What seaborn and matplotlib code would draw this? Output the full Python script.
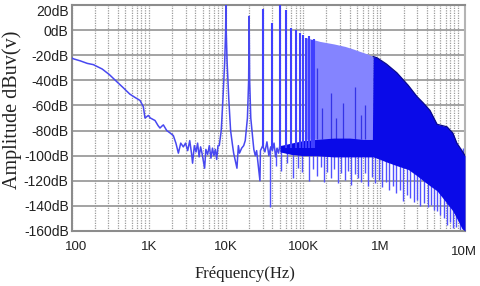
import matplotlib
matplotlib.use("Agg")
import matplotlib.pyplot as plt
import matplotlib.transforms as mtransforms
from matplotlib.ticker import LogLocator, NullFormatter
import seaborn as sns

# spectrum trace, 100 Hz .. 50 kHz (Hz, dBuV)
trace_freq = [100, 105, 130, 160, 192, 250, 310, 385, 470, 570,
              680, 771, 852, 895, 940, 990, 1050, 1208, 1320, 1400,
              1480, 1548, 1713, 1900, 2085, 2250, 2423, 2600, 2808, 3000,
              3200, 3400, 3600, 3700, 3900, 4100, 4300, 4500, 4700, 4900,
              5100, 5300, 5500, 5800, 6100, 6400, 6700, 7000, 7300, 7600,
              7900, 8200, 8700, 9150, 9650, 9920, 10000, 10080, 10360, 10900,
              11500, 12200, 12600, 13900, 14500, 15000, 16000, 17000, 17800, 19000,
              19700, 20000, 20300, 21000, 22400, 23000, 24000, 25000, 27600, 28000,
              29000, 30000, 32000, 34000, 36000, 38000, 40000, 42000, 44000, 46000,
              48000, 50000]
trace_db = [-22, -22.8, -24.5, -26.5, -27.5, -31, -35.5, -41, -46, -51,
            -54, -56, -61, -70, -69, -68, -70, -72, -76, -78,
            -76.5, -75.5, -80, -82, -84, -90, -98, -90, -93, -90,
            -96, -88, -99, -106, -92, -97, -90, -101, -93, -98,
            -104, -110, -95, -99, -92, -102, -94, -100, -95, -103,
            -92, -92, -80, -55, -25, 0, 20, 0, -25, -55,
            -80, -92, -98, -110, -92, -98, -94, -92, -88, -70,
            -40, 11, -40, -70, -88, -95, -100, -96, -120, -96,
            -94, -92, -97, -89, -100, -93, -96, -90, -101, -94,
            -98, -92]

# distinct harmonics of 10 kHz
harm_freq = [30e3, 40e3, 50e3, 60e3, 70e3, 80e3, 90e3, 100e3, 110e3, 120e3, 130e3, 140e3]
harm_top = [17, 6, 21, 16, 2, 0, -2, -4, -6, -5, -8, -7]

# dense harmonics 100 kHz .. 800 kHz (envelope)
light_freq = [109e3, 165e3, 250e3, 350e3, 443e3, 546e3, 680e3, 804e3]
light_top = [-6, -9, -11, -13, -15, -17, -19, -21]

# darker lines inside the dense harmonic area
mid_freq = [150e3, 175e3, 230e3, 270e3, 330e3, 470e3, 560e3, 640e3]
mid_top = [-30, -62, -50, -70, -58, -45, -68, -60]

# dark noise band / saturated area
dark_freq = [50e3, 70e3, 100e3, 150e3, 250e3, 400e3, 600e3, 790e3, 804e3,
             906e3, 1.2e6, 1.64e6, 2.3e6, 2.99e6, 3.6e6, 4.4e6, 5.43e6, 6.3e6, 7.3e6,
             8.7e6, 9.8e6, 11.4e6, 12.5e6]
dark_top = [-92, -90, -88, -87, -86, -86, -87, -87, -21,
            -22, -27, -34, -44, -53, -58, -64, -75, -76, -77,
            -82, -90, -96, -100]
dark_bottom = [-97, -99, -100, -100, -101, -101, -101, -101, -101,
               -102, -105, -108, -111, -116, -120, -124, -128, -133, -138,
               -144, -150, -158, -160]

# downward noise spikes
spike_freq = [37e3, 45e3, 52e3, 62e3, 73e3, 85e3, 97e3,
              119e3, 135e3, 150e3, 168e3, 185e3, 205e3, 228e3, 252e3, 280e3, 310e3,
              345e3, 380e3, 420e3, 465e3, 515e3, 570e3, 630e3, 700e3, 780e3, 860e3,
              950e3, 1.05e6, 1.17e6, 1.3e6, 1.45e6, 1.6e6, 1.78e6, 1.97e6, 2.2e6, 2.45e6,
              2.7e6, 3.0e6, 3.3e6, 3.7e6, 4.1e6, 4.5e6, 5.0e6, 5.4e6, 6.0e6, 6.6e6,
              7.3e6, 8.0e6, 8.8e6, 9.7e6, 10.7e6, 11.8e6]
spike_db = [-141, -108, -112, -106, -118, -110, -113,
            -120, -111, -116, -109, -121, -113, -118, -111, -122, -114,
            -119, -112, -123, -115, -118, -121, -114, -124, -117, -122,
            -119, -125, -121, -127, -124, -130, -127, -136, -131, -134,
            -137, -135, -140, -138, -141, -139, -143, -144, -147, -150,
            -155, -153, -158, -157, -159, -160]

x_ticks = [100, 1e3, 1e4, 1e5, 1e6, 1e7]
x_labels = ["100", "1K", "10K", "100K", "1M", "10M"]
y_ticks = [20, 0, -20, -40, -60, -80, -100, -120, -140, -160]
y_labels = [f"{v}dB" for v in y_ticks]

sns.set_style("white")
plt.rcParams["font.family"] = ["Liberation Sans", "DejaVu Sans"]

fig = plt.figure(figsize=(4.8, 2.86), dpi=100)
ax = fig.add_axes([71.5 / 480, 1 - 231 / 286, (465 - 71.5) / 480, (231 - 5) / 286])
ax.set_xscale("log")

floor = -94
ax.vlines(spike_freq, floor, spike_db, color="#5252ff", lw=1.0, zorder=2)
ax.fill_between(light_freq, light_top, -87, color="#8484ff", lw=0, zorder=2)
ax.vlines(mid_freq, -87, mid_top, color="#3434e6", lw=0.9, zorder=2.5)
ax.fill_between(dark_freq, dark_top, dark_bottom, color="#0a0ae8", lw=0, zorder=3)
ax.plot(dark_freq[8:], dark_top[8:], color="#0a0a8c", lw=0.9, zorder=3.2)
ax.vlines(harm_freq, floor, harm_top, color="#4040ff", lw=1.5, zorder=3.5)
sns.lineplot(x=trace_freq, y=trace_db, ax=ax, color="#4848f0", lw=1.1,
             estimator=None, sort=False, zorder=4)

ax.set_xlim(100, 1.25e7)
ax.set_ylim(-160, 20)
ax.set_xticks(x_ticks)
ax.set_xticklabels(x_labels)
ax.xaxis.set_minor_locator(LogLocator(base=10, subs=range(2, 10), numticks=20))
ax.xaxis.set_minor_formatter(NullFormatter())
ax.set_yticks(y_ticks)
ax.set_yticklabels(y_labels)

ax.set_axisbelow(True)
ax.grid(which="major", axis="y", color="#9c9c9c", lw=1.3, ls="-")
ax.grid(which="both", axis="x", color="#9c9c9c", lw=0.9, ls=(0, (1, 1)))

ax.tick_params(axis="y", length=0, pad=2, labelsize=10, labelcolor="#222222")
ax.tick_params(axis="x", which="both", length=0, pad=7, labelsize=9.5, labelcolor="#222222")

for name, sp in ax.spines.items():
    sp.set_color("#8c8c8c")
    sp.set_linewidth(1.5)
ax.spines["right"].set_color("#b4b4b4")

# edge labels sit a bit inward like the reference
xl = ax.get_xticklabels()
xl[0].set_transform(xl[0].get_transform() + mtransforms.ScaledTranslation(5 / 100, 0, fig.dpi_scale_trans))
xl[-1].set_transform(xl[-1].get_transform() + mtransforms.ScaledTranslation(6 / 100, -5 / 100, fig.dpi_scale_trans))
yl = ax.get_yticklabels()
yl[0].set_transform(yl[0].get_transform() + mtransforms.ScaledTranslation(0, -6 / 100, fig.dpi_scale_trans))

ax.set_xlabel("")
ax.set_ylabel("")
fig.text(245 / 480, 1 - 274 / 286, "Fréquency(Hz)", ha="center", va="center",
         family=["Liberation Serif", "DejaVu Serif"], fontsize=12, color="#222222")
fig.text(12 / 480, 1 - 110 / 286, "Amplitude dBuv(v)", ha="center", va="center", rotation=90,
         family=["Liberation Serif", "DejaVu Serif"], fontsize=14.5, color="#222222")

fig.savefig("out.png", dpi=100)
